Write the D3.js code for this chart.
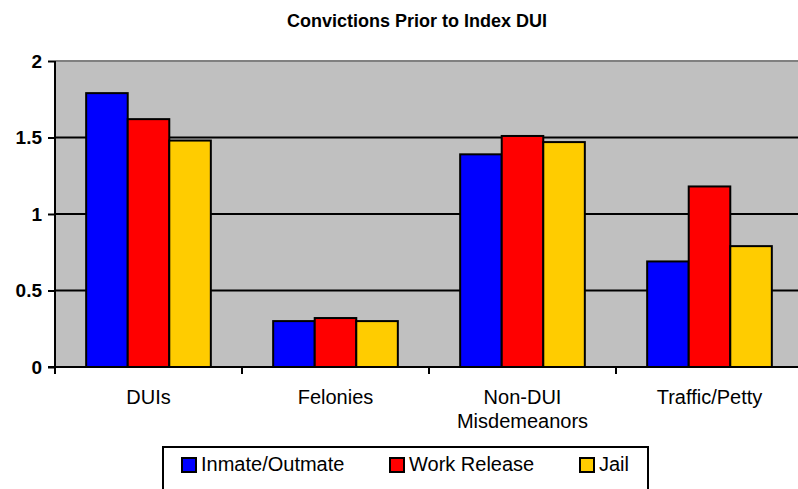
<!DOCTYPE html>
<html>
<head>
<meta charset="utf-8">
<script src="https://cdn.jsdelivr.net/npm/d3@7"></script>
<style>
    body { margin: 0; background: #fff; }
    text { font-family: Arial, "Liberation Sans", sans-serif; fill: #000; }
</style>
</head>
<body>
<div id="chart"></div>
<script>
const categories = [['DUIs'], ['Felonies'], ['Non-DUI', 'Misdemeanors'], ['Traffic/Petty']];
const seriesNames = ['Inmate/Outmate', 'Work Release', 'Jail'];
const inmateOutmate = [1.79, 0.30, 1.39, 0.69];
const workRelease = [1.62, 0.32, 1.51, 1.18];
const jail = [1.48, 0.30, 1.47, 0.79];
const yTicks = [0, 0.5, 1, 1.5, 2];
const colors = ['#0000ff', '#ff0000', '#ffcc00'];

function makeChart(node) {
    const rawWidth = 798;
    const rawHeight = 489;
    const svg = d3.select(node)
        .append('svg')
        .attr('width', rawWidth)
        .attr('height', rawHeight);

    // plot area runs off the right edge, like the original
    const plot = { left: 55, right: 803, top: 61, bot: 367 };
    const series = [inmateOutmate, workRelease, jail];

    const x = d3.scaleBand()
        .domain(d3.range(categories.length))
        .range([plot.left, plot.right]);
    // excel gap width 150%: three bars take 3 of 4.5 bar widths
    const barW = x.bandwidth() / 4.5;
    const xs = d3.scaleBand()
        .domain(d3.range(series.length))
        .range([barW * 0.75, barW * 3.75]);
    const y = d3.scaleLinear().domain([0, 2]).range([plot.bot, plot.top]);

    svg.append('text')
        .attr('x', 417)
        .attr('y', 27)
        .attr('text-anchor', 'middle')
        .style('font-weight', 'bold')
        .style('font-size', '18px')
        .text('Convictions Prior to Index DUI');

    svg.append('rect')
        .attr('x', plot.left)
        .attr('y', plot.top)
        .attr('width', plot.right - plot.left)
        .attr('height', plot.bot - plot.top)
        .attr('fill', '#c0c0c0');

    svg.append('line')
        .attr('x1', plot.left).attr('x2', plot.right)
        .attr('y1', plot.top).attr('y2', plot.top)
        .attr('stroke', '#808080').attr('stroke-width', 2);

    svg.append('g')
        .selectAll('line')
        .data(yTicks.filter(d => d > 0 && d < 2))
        .join('line')
        .attr('x1', plot.left).attr('x2', plot.right)
        .attr('y1', d => y(d)).attr('y2', d => y(d))
        .attr('stroke', '#000').attr('stroke-width', 2);

    const groups = svg.append('g')
        .selectAll('g')
        .data(series)
        .join('g')
        .attr('fill', (d, i) => colors[i]);
    groups.each(function(vals, si) {
        d3.select(this).selectAll('rect')
            .data(vals)
            .join('rect')
            .attr('x', (d, ci) => x(ci) + xs(si))
            .attr('y', d => y(d))
            .attr('width', xs.bandwidth())
            .attr('height', d => y(0) - y(d))
            .attr('stroke', '#000')
            .attr('stroke-width', 2);
    });

    const yAxis = svg.append('g')
        .attr('transform', `translate(${plot.left},0)`)
        .call(d3.axisLeft(y).tickValues(yTicks).tickSize(7).tickPadding(6).tickFormat(d3.format('')));
    yAxis.select('.domain').attr('stroke-width', 2).attr('d', `M0,${plot.top}V${plot.bot}`);
    yAxis.selectAll('.tick line').attr('stroke-width', 2);
    yAxis.selectAll('.tick text')
        .style('font-size', '19px')
        .style('font-weight', 'bold')
        .attr('fill', '#000');

    const xAxis = svg.append('g')
        .attr('transform', `translate(0,${plot.bot})`)
        .call(d3.axisBottom(x).tickSize(0).tickFormat(''));
    xAxis.select('.domain').attr('stroke-width', 2).attr('d', `M${plot.left - 7},0H${plot.right}`);
    xAxis.selectAll('.tick').remove();
    xAxis.append('g')
        .selectAll('line')
        .data(d3.range(categories.length + 1))
        .join('line')
        .attr('x1', i => plot.left + i * x.step())
        .attr('x2', i => plot.left + i * x.step())
        .attr('y1', 0).attr('y2', 7)
        .attr('stroke', '#000').attr('stroke-width', 2);

    const labels = svg.append('g')
        .selectAll('text')
        .data(categories)
        .join('text')
        .attr('x', (d, i) => x(i) + x.bandwidth() / 2)
        .attr('y', 404)
        .attr('text-anchor', 'middle')
        .style('font-size', '20px');
    labels.selectAll('tspan')
        .data(d => d)
        .join('tspan')
        .attr('x', function() { return d3.select(this.parentNode).attr('x'); })
        .attr('dy', (d, i) => i === 0 ? 0 : 24)
        .text(d => d);

    // legend
    const legend = svg.append('g');
    legend.append('rect')
        .attr('x', 163).attr('y', 447)
        .attr('width', 485).attr('height', 60)
        .attr('fill', '#fff').attr('stroke', '#000').attr('stroke-width', 2);
    const legendX = [182, 390, 580];
    const items = legend.selectAll('g.item')
        .data(seriesNames)
        .join('g')
        .attr('class', 'item')
        .attr('transform', (d, i) => `translate(${legendX[i]},458)`);
    items.append('rect')
        .attr('width', 14).attr('height', 14)
        .attr('fill', (d, i) => colors[i])
        .attr('stroke', '#000').attr('stroke-width', 2);
    items.append('text')
        .attr('x', 19).attr('y', 13)
        .style('font-size', '20px')
        .text(d => d);
}

makeChart(document.getElementById('chart'));
</script>
</body>
</html>
